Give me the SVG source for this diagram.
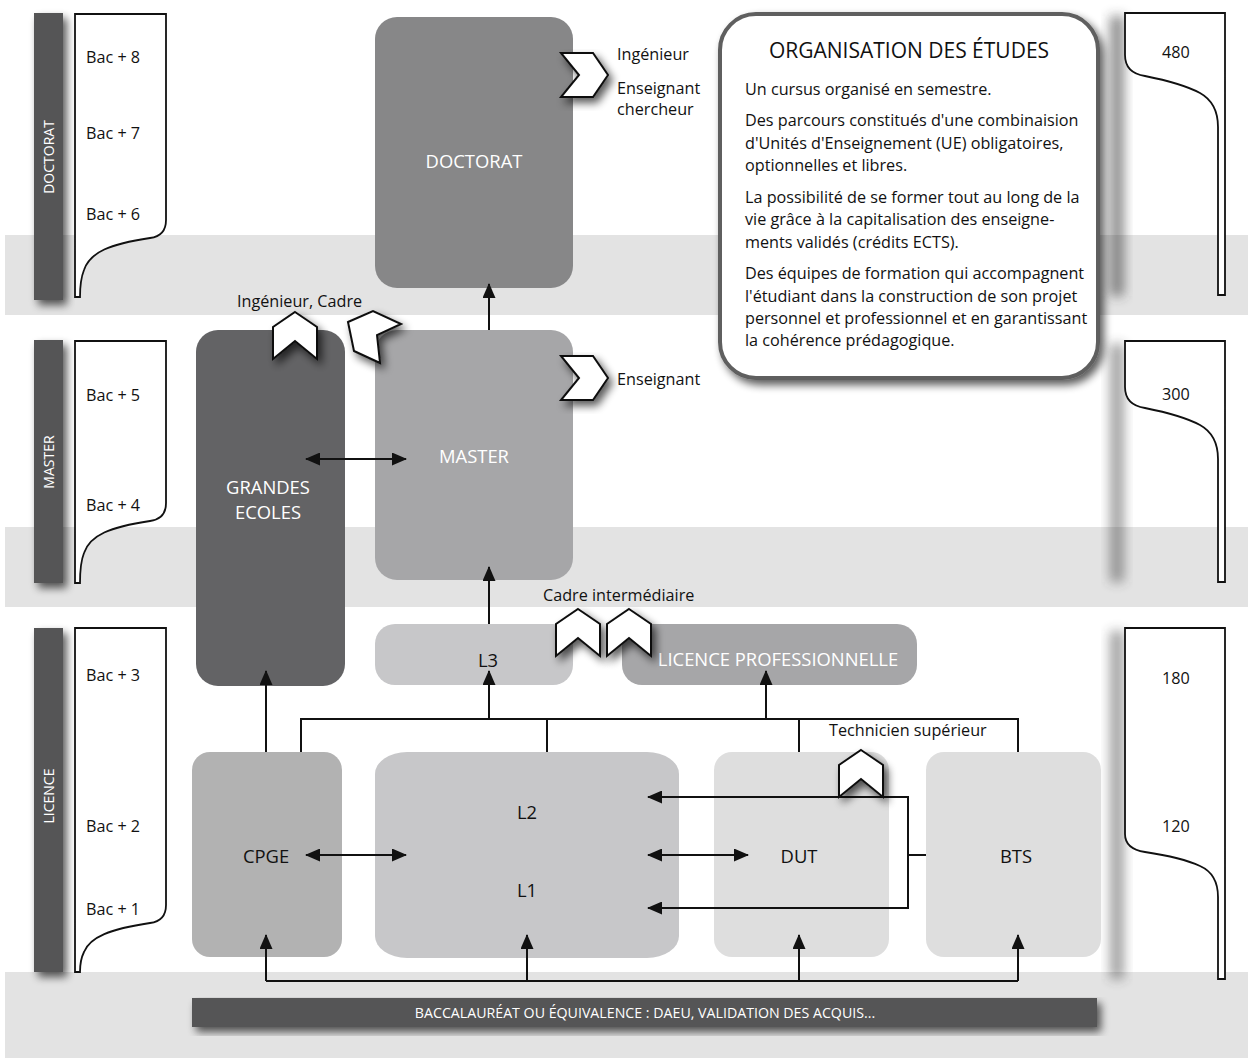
<svg xmlns="http://www.w3.org/2000/svg" width="1248" height="1061" viewBox="0 0 1248 1061">
<defs>
<style>
text{font-family:"Open Sans","Noto Sans","DejaVu Sans",sans-serif;fill:#111}
.band{fill:#e3e3e3}
.bar{fill:#545456}
.brk{fill:#fff;stroke:#111;stroke-width:1.8}
.lbl{font-size:16.2px}
.nd{font-size:18.4px;text-anchor:middle}
.wt{fill:#fff}
.vt{font-size:14px;fill:#fff;text-anchor:middle}
.box{font-size:16.2px}
.chev{fill:#fff;stroke:#111;stroke-width:2;stroke-linejoin:miter}
.cn{fill:none;stroke:#111;stroke-width:2}
</style>
<filter id="sh" x="-40%" y="-20%" width="180%" height="150%">
<feGaussianBlur in="SourceAlpha" stdDeviation="4"/>
<feOffset dx="4" dy="5" result="b"/>
<feComponentTransfer><feFuncA type="linear" slope="0.65"/></feComponentTransfer>
<feMerge><feMergeNode/><feMergeNode in="SourceGraphic"/></feMerge>
</filter>
<filter id="shl" x="-60%" y="-10%" width="220%" height="130%">
<feGaussianBlur stdDeviation="6"/>
</filter>
<marker id="ah" markerUnits="userSpaceOnUse" markerWidth="15" markerHeight="13" refX="14" refY="6.5" orient="auto-start-reverse">
<path d="M0,0 L15,6.5 L0,13 Z" fill="#111"/>
</marker>
<path id="chevUp" d="M0,0 L22,15 L22,47 L0,29 L-22,47 L-22,15 Z"/>
<path id="chevRight" d="M0,0 L-15,22 L-47,22 L-29,0 L-47,-22 L-15,-22 Z"/>
</defs>
<rect width="1248" height="1061" fill="#fff"/>
<g id="bands">
<rect class="band" x="5" y="235" width="1243" height="80"/>
<rect class="band" x="5" y="527" width="1243" height="80"/>
<rect class="band" x="5" y="972" width="1243" height="86"/>
</g>
<g id="levels-left">
<rect class="bar" x="34" y="13" width="29" height="287" filter="url(#sh)"/>
<rect class="bar" x="34" y="340" width="29" height="243" filter="url(#sh)"/>
<rect class="bar" x="34" y="628" width="29" height="344" filter="url(#sh)"/>
<text class="vt" transform="translate(54,157) rotate(-90)">DOCTORAT</text>
<text class="vt" transform="translate(54,462) rotate(-90)">MASTER</text>
<text class="vt" transform="translate(54,796) rotate(-90)">LICENCE</text>
<path class="brk" d="M75,14 H166 V220 Q166,236 150,238 C110,244 90,252 84,270 Q80,280 80,297 H75 Z"/>
<path class="brk" d="M75,341 H166 V503 Q166,519 150,521 C110,527 90,535 84,553 Q80,563 80,583 H75 Z"/>
<path class="brk" d="M75,628 H166 V905 Q166,921 150,923 C110,929 90,937 84,952 Q80,960 80,972 H75 Z"/>
<text class="lbl" x="86" y="63">Bac + 8</text>
<text class="lbl" x="86" y="139">Bac + 7</text>
<text class="lbl" x="86" y="220">Bac + 6</text>
<text class="lbl" x="86" y="401">Bac + 5</text>
<text class="lbl" x="86" y="511">Bac + 4</text>
<text class="lbl" x="86" y="681">Bac + 3</text>
<text class="lbl" x="86" y="832">Bac + 2</text>
<text class="lbl" x="86" y="915">Bac + 1</text>
</g>
<g id="levels-right">
<rect x="1110" y="16" width="14" height="280" fill="#333" opacity="0.55" filter="url(#shl)"/>
<rect x="1110" y="344" width="14" height="238" fill="#333" opacity="0.45" filter="url(#shl)"/>
<rect x="1110" y="631" width="14" height="348" fill="#333" opacity="0.45" filter="url(#shl)"/>
<path class="brk" d="M1125,13 H1225 V295 H1218 V127 Q1218,103 1200,93 C1185,85 1165,80 1145,76 Q1125,73 1125,55 Z"/>
<path class="brk" d="M1125,341 H1225 V582 H1218 V459 Q1218,435 1200,425 C1185,417 1165,412 1145,408 Q1125,405 1125,387 Z"/>
<path class="brk" d="M1125,628 H1225 V979 H1218 V897 Q1218,874 1200,866 C1185,859 1165,855 1145,852 Q1125,849 1125,834 Z"/>
<text class="lbl" x="1176" y="58" text-anchor="middle">480</text>
<text class="lbl" x="1176" y="400" text-anchor="middle">300</text>
<text class="lbl" x="1176" y="684" text-anchor="middle">180</text>
<text class="lbl" x="1176" y="832" text-anchor="middle">120</text>
</g>
<g id="doctorat">
<rect x="375" y="17" width="198" height="271" rx="22" fill="#878788"/>
<text class="nd wt" x="474" y="168">DOCTORAT</text>
</g>
<g id="master">
<rect x="375" y="330" width="198" height="250" rx="22" fill="#a6a6a8"/>
<text class="nd wt" x="474" y="463">MASTER</text>
</g>
<g id="grandes-ecoles">
<rect x="196" y="330" width="149" height="356" rx="22" fill="#636365"/>
<text class="nd wt" x="268" y="494">GRANDES</text>
<text class="nd wt" x="268" y="519">ECOLES</text>
</g>
<g id="l3">
<rect x="375" y="624" width="198" height="61" rx="20" fill="#c7c7c9"/>
<text class="nd" x="488" y="667">L3</text>
</g>
<g id="licence-pro">
<rect x="622" y="624" width="295" height="61" rx="20" fill="#a6a6a8"/>
<text class="nd wt" x="778" y="666">LICENCE PROFESSIONNELLE</text>
</g>
<g id="cpge">
<rect x="192" y="752" width="150" height="205" rx="18" fill="#b2b2b2"/>
<text class="nd" x="266" y="863">CPGE</text>
</g>
<g id="l1l2">
<rect x="375" y="752" width="304" height="206" rx="32" ry="22" fill="#c7c7c9"/>
<text class="nd" x="527" y="819">L2</text>
<text class="nd" x="527" y="897">L1</text>
</g>
<g id="dut">
<rect x="714" y="752" width="175" height="205" rx="18" fill="#dedede"/>
<text class="nd" x="799" y="863">DUT</text>
</g>
<g id="bts">
<rect x="926" y="752" width="175" height="205" rx="18" fill="#dedede"/>
<text class="nd" x="1016" y="863">BTS</text>
</g>
<g id="baccalaureat">
<rect x="192" y="998" width="905" height="29" fill="#545456" filter="url(#sh)"/>
<text x="645" y="1018" font-size="14.2" text-anchor="middle" style="fill:#fff">BACCALAURÉAT OU ÉQUIVALENCE : DAEU, VALIDATION DES ACQUIS...</text>
</g>
<g id="connectors">
<path class="cn" d="M489,330 V284" marker-end="url(#ah)"/>
<path class="cn" d="M489,624 V567" marker-end="url(#ah)"/>
<path class="cn" d="M306,459 H406" marker-start="url(#ah)" marker-end="url(#ah)"/>
<path class="cn" d="M266,752 V671" marker-end="url(#ah)"/>
<path class="cn" d="M301,752 V719 H1018 V752"/>
<path class="cn" d="M547,719 V752"/>
<path class="cn" d="M799,719 V752"/>
<path class="cn" d="M489,719 V671" marker-end="url(#ah)"/>
<path class="cn" d="M766,719 V671" marker-end="url(#ah)"/>
<path class="cn" d="M306,855 H406" marker-start="url(#ah)" marker-end="url(#ah)"/>
<path class="cn" d="M648,855 H748" marker-start="url(#ah)" marker-end="url(#ah)"/>
<path class="cn" d="M648,797 H908 V908 H648" marker-start="url(#ah)" marker-end="url(#ah)"/>
<path class="cn" d="M908,855 H926"/>
<path class="cn" d="M266,981 H1018"/>
<path class="cn" d="M266,981 V935" marker-end="url(#ah)"/>
<path class="cn" d="M527,981 V935" marker-end="url(#ah)"/>
<path class="cn" d="M799,981 V935" marker-end="url(#ah)"/>
<path class="cn" d="M1018,981 V935" marker-end="url(#ah)"/>
</g>
<g id="outcomes">
<use href="#chevRight" class="chev" transform="translate(608,75)" filter="url(#sh)"/>
<use href="#chevRight" class="chev" transform="translate(608,378)" filter="url(#sh)"/>
<use href="#chevUp" class="chev" transform="translate(295,312)" filter="url(#sh)"/>
<polygon class="chev" points="348,322 373,311 401,324 377,335 380,363 354,351" filter="url(#sh)"/>
<use href="#chevUp" class="chev" transform="translate(578,609)" filter="url(#sh)"/>
<use href="#chevUp" class="chev" transform="translate(629,609)" filter="url(#sh)"/>
<use href="#chevUp" class="chev" transform="translate(861,750)" filter="url(#sh)"/>
<text class="lbl" x="617" y="60">Ingénieur</text>
<text class="lbl" x="617" y="94">Enseignant</text>
<text class="lbl" x="617" y="115">chercheur</text>
<text class="lbl" x="237" y="307">Ingénieur, Cadre</text>
<text class="lbl" x="617" y="385">Enseignant</text>
<text class="lbl" x="543" y="601">Cadre intermédiaire</text>
<text class="lbl" x="829" y="736">Technicien supérieur</text>
</g>
<g id="info">
<rect x="720" y="14" width="378" height="364" rx="36" fill="#fff" stroke="#5f5f5f" stroke-width="4" filter="url(#sh)"/>
<text x="909" y="58" font-size="21" text-anchor="middle">ORGANISATION DES ÉTUDES</text>
<text class="box" x="745" y="95">Un cursus organisé en semestre.</text>
<text class="box" x="745" y="126">Des parcours constitués d'une combinaision</text>
<text class="box" x="745" y="149">d'Unités d'Enseignement (UE) obligatoires,</text>
<text class="box" x="745" y="171">optionnelles et libres.</text>
<text class="box" x="745" y="203">La possibilité de se former tout au long de la</text>
<text class="box" x="745" y="225">vie grâce à la capitalisation des enseigne-</text>
<text class="box" x="745" y="248">ments validés (crédits ECTS).</text>
<text class="box" x="745" y="279">Des équipes de formation qui accompagnent</text>
<text class="box" x="745" y="302">l'étudiant dans la construction de son projet</text>
<text class="box" x="745" y="324">personnel et professionnel et en garantissant</text>
<text class="box" x="745" y="346">la cohérence prédagogique.</text>
</g>
</svg>
